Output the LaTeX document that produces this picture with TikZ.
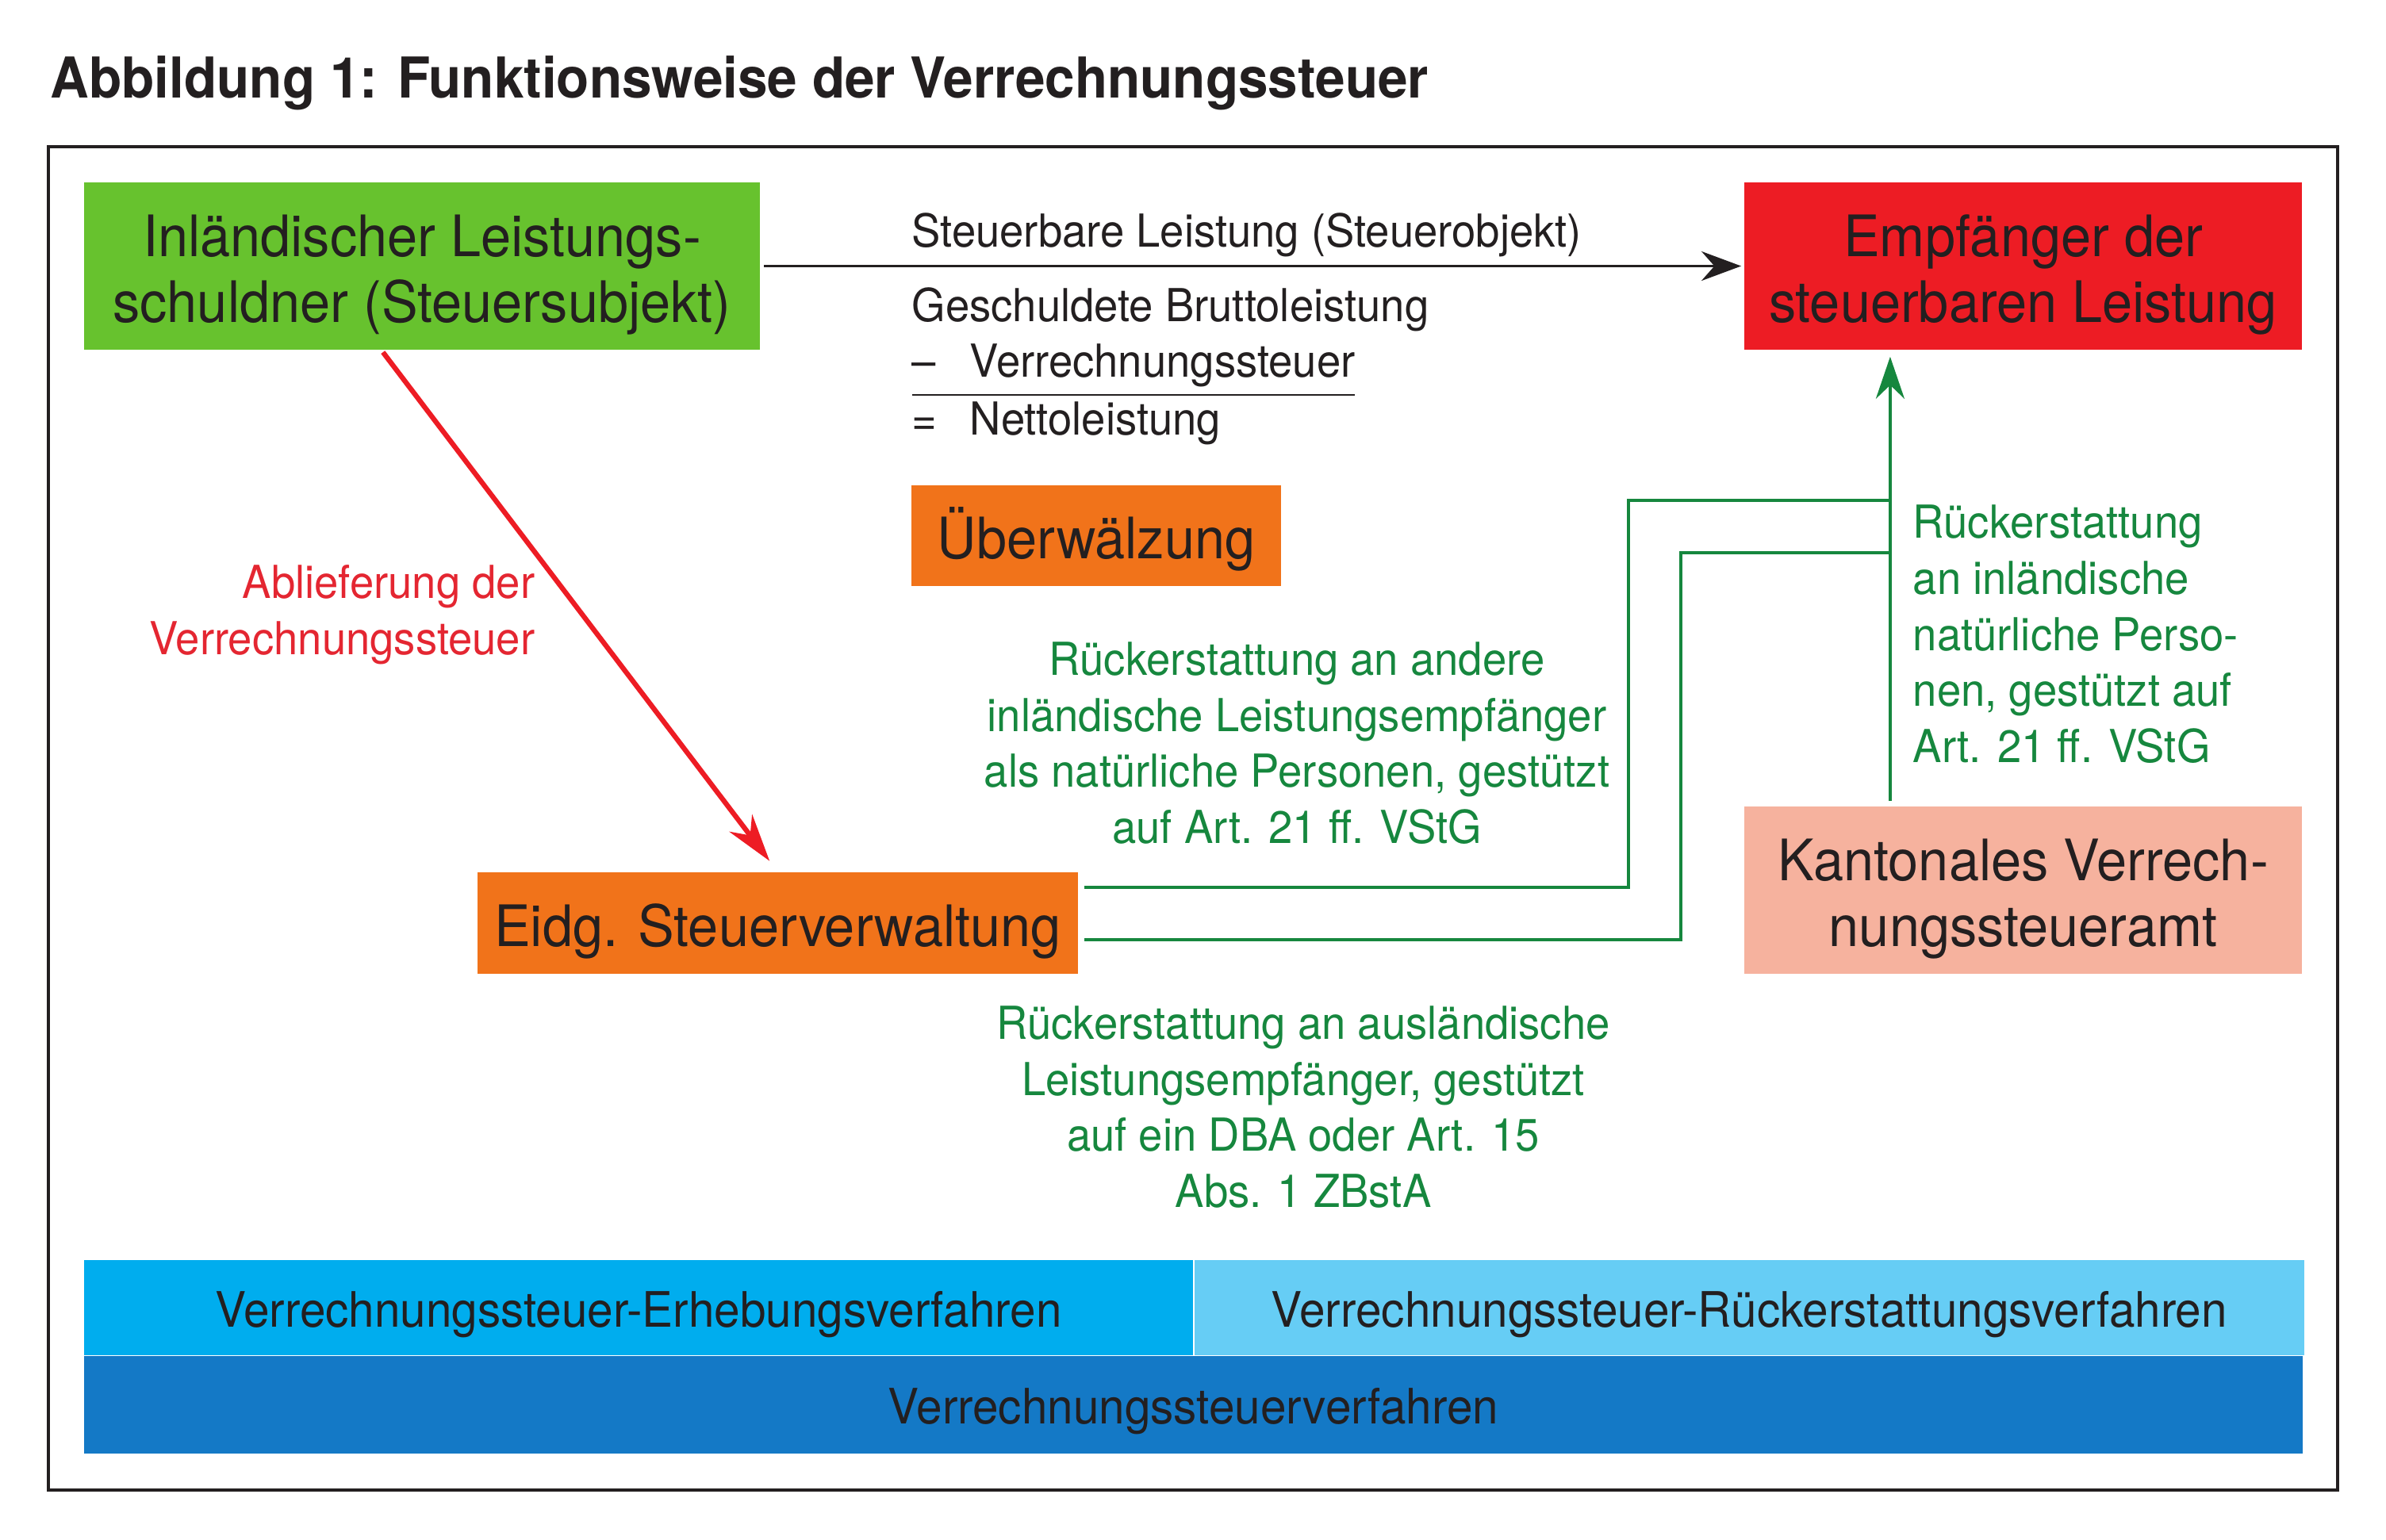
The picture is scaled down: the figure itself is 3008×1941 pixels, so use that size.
\documentclass[tikz,border=0pt]{standalone}
\usepackage{fontspec}
\setmainfont{TeX Gyre Heros}[FakeStretch=0.95]
\usepackage{xcolor}
\usepackage{tikz}
\usetikzlibrary{positioning,arrows.meta}

\definecolor{boxgruen}{RGB}{103,194,46}
\definecolor{boxrot}{RGB}{237,28,36}
\definecolor{boxorange}{RGB}{241,115,26}
\definecolor{boxlachs}{RGB}{246,178,158}
\definecolor{textgruen}{RGB}{22,135,62}
\definecolor{textrot}{RGB}{228,38,49}
\definecolor{balkenhell}{RGB}{0,173,238}
\definecolor{balkenblass}{RGB}{102,205,245}
\definecolor{balkendunkel}{RGB}{20,121,198}
\definecolor{schrift}{RGB}{35,31,32}

\newcommand{\kopfraum}{\rule{0pt}{21pt}}

\begin{document}
\begin{tikzpicture}[x=0.01cm, y=-0.01cm,
	kasten/.style={rectangle, inner sep=0pt, text=schrift, align=center, font=\fontsize{20.5}{23.6}\selectfont},
	balken/.style={rectangle, inner sep=0pt, text=schrift, minimum height=1.2cm, font=\fontsize{17.5}{20}\selectfont, execute at begin node=\rule{0pt}{17.6pt}},
	notiz/.style={inner sep=0pt, text=schrift, font=\fontsize{16.3}{20.05}\selectfont},
	gruennotiz/.style={notiz, text=textgruen},
	rueck/.style={draw=textgruen, line width=1.15pt}]
	\useasboundingbox (0,0) rectangle (3008,1941);

	\node[anchor=base west, inner sep=0pt, text=schrift, font=\fontsize{20.2}{24}\selectfont\bfseries] (titel) at (63,123) {Abbildung 1: Funktionsweise der Verrechnungssteuer};
	\draw[schrift, line width=1.15pt] (61,185) rectangle (2947,1879);

	% Beteiligte
	\node[kasten, fill=boxgruen, minimum width=8.52cm, minimum height=2.11cm] (schuldner) at (532,335.5) {\kopfraum Inländischer Leistungs-\\schuldner (Steuersubjekt)};
	\node[kasten, fill=boxrot, minimum width=7.03cm, minimum height=2.11cm] (empf) at (2550.5,335.5) {\kopfraum Empfänger der\\steuerbaren Leistung};
	\node[kasten, fill=boxorange, minimum width=4.66cm, minimum height=1.27cm] (ueberw) at (1382,675.5) {\kopfraum Überwälzung};
	\node[kasten, fill=boxorange, minimum width=7.57cm, minimum height=1.28cm] (estv) at (980.5,1164) {\kopfraum Eidg. Steuerverwaltung};
	\node[kasten, fill=boxlachs, minimum width=7.03cm, minimum height=2.11cm] (kanton) at (2550.5,1122.5) {\kopfraum Kantonales Verrech-\\nungssteueramt};

	% Verfahren
	\node[balken, fill=balkenhell, minimum width=13.98cm] (erhebung) at (805,1649) {Verrechnungssteuer-Erhebungsverfahren};
	\node[balken, fill=balkenblass, minimum width=13.98cm, right=0pt of erhebung] (rueckverf) {Verrechnungssteuer-Rückerstattungsverfahren};
	\node[balken, fill=balkendunkel, minimum width=27.96cm, minimum height=1.22cm, below=0pt of erhebung.south west, anchor=north west] (verfahren) {Verrechnungssteuerverfahren};

	% Leistung
	\draw[-{Stealth[length=0.5cm, width=0.37cm]}, schrift, line width=1.1pt, shorten <=0.04cm, shorten >=0.03cm] (schuldner) -- (empf);
	\node[notiz, anchor=base west] (objekt) at (1149,311) {Steuerbare Leistung (Steuerobjekt)};
	\node[notiz, anchor=base west] (rechnung) at (1149,405) {\setlength{\arrayrulewidth}{0.8pt}%
		\begin{tabular}[t]{@{}p{0.73cm}@{}l@{}}
			\multicolumn{2}{@{}l@{}}{\rlap{Geschuldete Bruttoleistung}}\\
			– & Verrechnungssteuer\\ \hline
			= & Nettoleistung
		\end{tabular}};

	% Ablieferung
	\draw[-{Stealth[length=0.6cm, width=0.36cm]}, boxrot, line width=1.8pt, shorten <=0.03cm, shorten >=0.17cm] ([xshift=-0.51cm]schuldner.south) -- (estv.north);
	\node[notiz, text=textrot, align=right, anchor=base east] (abliefer) at (675,825) {Ablieferung der\\Verrechnungssteuer};

	% Rueckerstattung
	\coordinate (knoten1) at (2383,631);
	\coordinate (knoten2) at (2383,697);
	\draw[rueck] ([shift={(7,-45)}]estv.east) -| (2053,631) -- (knoten1);
	\draw[rueck] ([shift={(7,21)}]estv.east) -| (2119,697) -- (knoten2);
	\draw[rueck, -{Stealth[length=0.53cm, width=0.36cm]}, shorten <=0.06cm, shorten >=0.08cm] ([xshift=-1.675cm]kanton.north) -- ([xshift=-1.675cm]empf.south);

	\node[gruennotiz, align=center, anchor=base] (andere) at (1635,1063) {Rückerstattung an andere\\inländische Leistungsempfänger\\als natürliche Personen, gestützt\\auf Art. 21 ff. VStG};
	\node[gruennotiz, align=left, anchor=base west] (natuerlich) at (2411,961) {Rückerstattung\\an inländische\\natürliche Perso-\\nen, gestützt auf\\Art. 21 ff. VStG};
	\node[gruennotiz, align=center, anchor=base] (ausland) at (1643,1522) {Rückerstattung an ausländische\\Leistungsempfänger, gestützt\\auf ein DBA oder Art. 15\\Abs. 1 ZBstA};

\end{tikzpicture}
\end{document}
